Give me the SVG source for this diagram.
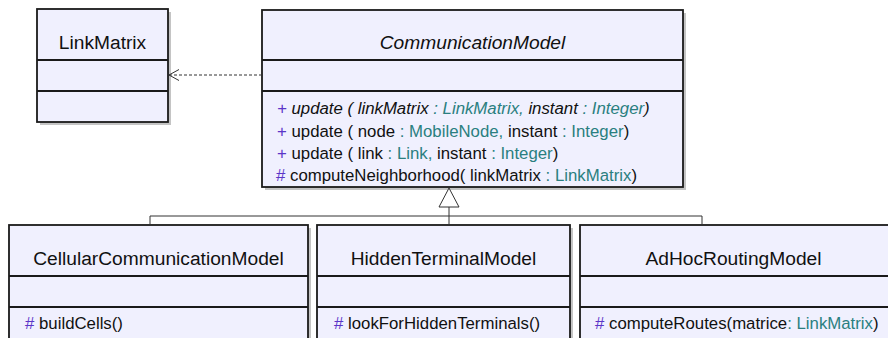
<svg xmlns="http://www.w3.org/2000/svg" width="888" height="338" viewBox="0 0 888 338">
<style>
.box{fill:#f0f0fe;stroke:#1a1a1a;stroke-width:1.8}
.shadow{fill:#c4c4c4}
.div{stroke:#1a1a1a;stroke-width:1.8}
.title{font-family:"Liberation Sans",Arial,sans-serif;font-size:19.2px;fill:#111;text-anchor:middle}
.m{font-family:"Liberation Sans",Arial,sans-serif;font-size:16.8px;fill:#111}
.v{fill:#5b35c8}
.t{fill:#2a7f80}
.conn{stroke:#333;stroke-width:1;fill:none}
</style>
<rect width="888" height="338" fill="#ffffff"/>
<g id="LinkMatrix">
<rect class="shadow" x="40" y="12" width="131" height="113"/>
<rect class="box" x="37" y="9" width="131" height="113"/>
<line class="div" x1="37" y1="60" x2="168" y2="60"/>
<line class="div" x1="37" y1="91" x2="168" y2="91"/>
<text class="title" x="102.5" y="48.5">LinkMatrix</text>
</g>
<g id="CommunicationModel">
<rect class="shadow" x="265" y="13" width="421" height="177"/>
<rect class="box" x="262" y="10" width="421" height="177"/>
<line class="div" x1="262" y1="60" x2="683" y2="60"/>
<line class="div" x1="262" y1="91" x2="683" y2="91"/>
<text class="title" x="472.5" y="48.5" font-style="italic">CommunicationModel</text>
<text class="m" x="277" y="113.5" font-style="italic"><tspan class="v">+</tspan> update ( linkMatrix <tspan class="t">: LinkMatrix,</tspan> instant <tspan class="t">: Integer</tspan>)</text>
<text class="m" x="277" y="136.5"><tspan class="v">+</tspan> update ( node <tspan class="t">: MobileNode,</tspan> instant <tspan class="t">: Integer</tspan>)</text>
<text class="m" x="277" y="158.5"><tspan class="v">+</tspan> update ( link <tspan class="t">: Link,</tspan> instant <tspan class="t">: Integer</tspan>)</text>
<text class="m" x="276" y="180.5"><tspan class="v">#</tspan> computeNeighborhood( linkMatrix <tspan class="t">: LinkMatrix</tspan>)</text>
</g>
<g id="CellularCommunicationModel">
<rect class="shadow" x="12" y="228" width="299" height="120"/>
<rect class="box" x="9" y="225" width="299" height="120"/>
<line class="div" x1="9" y1="276" x2="308" y2="276"/>
<line class="div" x1="9" y1="307" x2="308" y2="307"/>
<text class="title" x="158.5" y="264.5">CellularCommunicationModel</text>
<text class="m" x="25" y="329"><tspan class="v">#</tspan> buildCells()</text>
</g>
<g id="HiddenTerminalModel">
<rect class="shadow" x="320" y="228" width="253" height="120"/>
<rect class="box" x="317" y="225" width="253" height="120"/>
<line class="div" x1="317" y1="276" x2="570" y2="276"/>
<line class="div" x1="317" y1="307" x2="570" y2="307"/>
<text class="title" x="443.5" y="264.5">HiddenTerminalModel</text>
<text class="m" x="334" y="329"><tspan class="v">#</tspan> lookForHiddenTerminals()</text>
</g>
<g id="AdHocRoutingModel">
<rect class="shadow" x="583" y="228" width="310" height="120"/>
<rect class="box" x="580" y="225" width="310" height="120"/>
<line class="div" x1="580" y1="276" x2="890" y2="276"/>
<line class="div" x1="580" y1="307" x2="890" y2="307"/>
<text class="title" x="733.5" y="264.5">AdHocRoutingModel</text>
<text class="m" x="595" y="329"><tspan class="v">#</tspan> computeRoutes(matrice<tspan class="t">: LinkMatrix</tspan>)</text>
</g>
<g id="connectors">
<line class="conn" x1="262" y1="75" x2="169" y2="75" stroke-dasharray="3,2"/>
<polyline class="conn" points="179,69.5 169,75 179,80.5"/>
<polygon points="449,188 439,207 459,207" fill="#ffffff" stroke="#333" stroke-width="1"/>
<line class="conn" x1="449" y1="207" x2="449" y2="225"/>
<polyline class="conn" points="150,225 150,216 702,216 702,225"/>
</g>
</svg>
